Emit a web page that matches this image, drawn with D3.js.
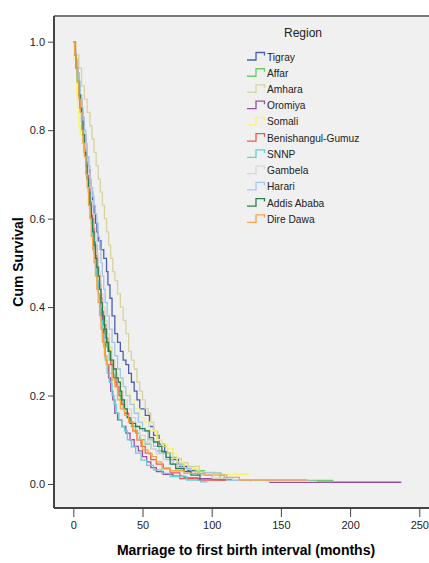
<!DOCTYPE html>
<meta charset="utf-8">
<style>

body {
  margin: 0;
  background: #fff;
  font-family: "Liberation Sans", Arial, sans-serif;
}

.axis text {
  font-size: 11px;
  fill: #222;
}

.axis path,
.axis line {
  stroke: #444;
}

.curve {
  fill: none;
  stroke-width: 1.3px;
}

</style>
<svg width="429" height="563"></svg>
<script src="https://d3js.org/d3.v7.min.js"></script>
<script>

var regions = ["Tigray", "Affar", "Amhara", "Oromiya", "Somali", "Benishangul-Gumuz",
    "SNNP", "Gambela", "Harari", "Addis Ababa", "Dire Dawa"];

var colors = ["#4a5fb2", "#6acd6a", "#d8d2a0", "#9a4fa6", "#f7f36e", "#f05555",
    "#62d0d0", "#d6d6d6", "#a6c4e8", "#2f7d4c", "#f6a445"];

// [months, cumulative survival]
var tigray = [[0,1],[1,0.98],[2,0.95],[3,0.92],[4,0.9],[5,0.87],[6,0.84],[7,0.82],[8,0.79],[9,0.76],[10,0.74],[11,0.71],[12,0.68],[13,0.66],[14,0.63],[15,0.61],[16,0.59],[17,0.57],[18,0.55],[20,0.53],[22,0.51],[24,0.48],[25,0.45],[26.5,0.42],[28,0.38],[30,0.34],[32,0.32],[34,0.3],[36,0.28],[38,0.27],[40,0.25],[42,0.23],[44,0.21],[46,0.19],[48,0.17],[52,0.155],[55,0.13],[58,0.11],[62,0.09],[66,0.07],[70,0.055],[76,0.04],[82,0.03],[90,0.02],[100,0.012],[106,0.008]];
var affar = [[0,1],[1,0.97],[2,0.95],[3,0.92],[4,0.89],[5,0.86],[6,0.83],[7,0.79],[8,0.76],[9,0.73],[10,0.7],[11,0.67],[12,0.64],[13,0.61],[14,0.58],[15,0.55],[16,0.52],[17,0.49],[18,0.46],[19,0.43],[20,0.4],[21,0.37],[22.5,0.34],[24,0.31],[26,0.28],[28,0.25],[30,0.23],[32,0.21],[34,0.19],[36,0.17],[39,0.15],[42,0.13],[45,0.115],[48,0.1],[52,0.09],[56,0.08],[60,0.075],[65,0.07],[70,0.06],[75,0.045],[80,0.035],[88,0.03],[95,0.027],[102,0.024],[106,0.008],[188,0.008]];
var amhara = [[0,1],[2,0.97],[4,0.94],[6,0.9],[8,0.87],[10,0.84],[12,0.81],[13.5,0.78],[15,0.75],[16.5,0.72],[18,0.69],[19.5,0.66],[21,0.63],[22.5,0.6],[24,0.57],[25.5,0.54],[27,0.51],[28.5,0.48],[30,0.46],[32,0.43],[34,0.4],[36,0.37],[38,0.34],[40,0.3],[42,0.28],[44,0.26],[46,0.23],[48,0.21],[50,0.19],[52,0.17],[54,0.16],[56,0.14],[58,0.12],[61,0.1],[64,0.085],[68,0.07],[72,0.058],[78,0.048],[83,0.04],[91,0.02],[100,0.012],[110,0.008],[128,0.005]];
var oromiya = [[0,1],[1,0.97],[2,0.94],[3,0.91],[4,0.88],[5,0.85],[6,0.82],[7,0.79],[8,0.76],[9,0.73],[10,0.7],[11,0.67],[12,0.63],[13,0.6],[14,0.57],[15,0.53],[16,0.5],[17,0.47],[18,0.44],[19,0.41],[20,0.38],[21,0.35],[22,0.32],[23,0.29],[24,0.27],[25.5,0.24],[27,0.21],[28.5,0.19],[30,0.16],[32,0.145],[35,0.13],[38,0.115],[41,0.1],[44,0.085],[47,0.075],[50,0.062],[53,0.05],[56,0.037],[60,0.028],[65,0.022],[72,0.018],[80,0.014],[90,0.012],[100,0.01],[120,0.008],[142,0.004],[237,0.004]];
var somali = [[0,1],[0.5,0.96],[2,0.93],[2.5,0.88],[3,0.85],[4,0.81],[5,0.79],[6,0.77],[7.5,0.75],[9,0.72],[10,0.69],[11,0.66],[12,0.63],[13,0.6],[14,0.57],[15,0.54],[16.5,0.5],[18,0.46],[19,0.43],[20.5,0.4],[22,0.37],[23.5,0.34],[25,0.31],[27,0.28],[29,0.26],[32,0.24],[35,0.22],[38,0.205],[41,0.19],[44,0.17],[48,0.15],[52,0.14],[55,0.12],[60,0.1],[64,0.09],[68,0.08],[72,0.07],[75,0.05],[80,0.035],[90,0.028],[103,0.022],[127,0.022]];
var benishangul = [[0,1],[1,0.98],[2,0.96],[3,0.93],[4,0.9],[5,0.87],[6,0.84],[7,0.81],[8,0.78],[9,0.75],[10,0.72],[11,0.69],[12,0.66],[13,0.63],[14,0.6],[15,0.57],[16,0.54],[17,0.51],[18,0.48],[19,0.45],[20,0.42],[21,0.39],[22,0.36],[23.5,0.33],[25,0.3],[27,0.27],[29,0.24],[31,0.22],[33,0.2],[35,0.18],[37,0.16],[40,0.14],[43,0.12],[46,0.1],[49,0.085],[52,0.07],[56,0.055],[60,0.045],[65,0.035],[70,0.025],[77,0.012],[90,0.009],[120,0.009]];
var snnp = [[0,1],[1,0.97],[2,0.94],[3,0.91],[4,0.88],[5,0.85],[6,0.82],[7,0.79],[8,0.76],[9,0.72],[10,0.69],[11,0.66],[12,0.62],[13,0.59],[14,0.56],[15,0.52],[16,0.49],[17,0.46],[18,0.43],[19,0.4],[20,0.37],[21,0.34],[22,0.31],[23,0.28],[24.5,0.25],[26,0.23],[28,0.2],[29.5,0.18],[31,0.16],[33,0.145],[35,0.13],[37,0.12],[39,0.1],[42,0.084],[45,0.07],[49,0.054],[53,0.042],[58,0.032],[64,0.024],[70,0.017],[82,0.009],[92,0.005],[97,0.005]];
var gambela = [[0,1],[1,0.98],[2,0.95],[3,0.93],[4,0.9],[5,0.88],[6,0.85],[7,0.82],[8,0.79],[9,0.76],[10,0.73],[11,0.7],[12,0.67],[13,0.64],[14,0.61],[15,0.58],[16,0.55],[17,0.52],[18,0.49],[19,0.46],[20,0.43],[21.5,0.4],[23,0.37],[24.5,0.34],[26,0.31],[28,0.28],[30,0.25],[32,0.23],[34,0.21],[36,0.19],[39,0.17],[42,0.15],[45,0.13],[48,0.11],[52,0.095],[56,0.08],[60,0.068],[65,0.055],[70,0.045],[76,0.035],[82,0.028],[90,0.02],[100,0.014],[115,0.01],[140,0.006],[176,0.006]];
var harari = [[0,1],[1,0.98],[2,0.96],[3,0.93],[4,0.91],[5,0.88],[6,0.85],[7,0.83],[8,0.8],[9,0.77],[10,0.74],[11,0.72],[12,0.69],[13,0.67],[14,0.65],[15,0.63],[16,0.61],[17,0.59],[18,0.56],[19,0.53],[20,0.5],[21,0.47],[22,0.44],[23,0.41],[24.5,0.38],[26,0.35],[28,0.32],[30,0.29],[32,0.26],[34,0.24],[36,0.22],[38,0.2],[41,0.18],[44,0.16],[47,0.14],[50,0.12],[54,0.1],[58,0.085],[62,0.07],[67,0.055],[72,0.045],[78,0.035],[85,0.028],[94,0.025],[107,0.02],[111,0.008],[170,0.008]];
var addisAbaba = [[0,1],[1,0.97],[2,0.94],[3,0.91],[4,0.88],[5,0.85],[6,0.82],[7,0.79],[8,0.75],[9,0.72],[10,0.69],[11,0.66],[12,0.63],[13,0.6],[14,0.57],[15,0.54],[16,0.51],[17,0.49],[18,0.47],[19,0.44],[20,0.41],[21,0.38],[22.5,0.35],[24,0.32],[25.5,0.3],[27,0.28],[29,0.26],[31,0.24],[32.5,0.23],[34,0.21],[35,0.19],[37,0.17],[39,0.15],[41,0.137],[45,0.13],[48,0.125],[51.8,0.12],[55,0.105],[58,0.095],[61,0.085],[64,0.073],[67,0.06],[70,0.045],[74,0.035],[80,0.028],[85,0.02],[91.5,0.01],[92,0.01]];
var direDawa = [[0,1],[1,0.97],[2,0.94],[3,0.91],[4,0.87],[5,0.84],[6,0.8],[7,0.77],[8,0.74],[9,0.7],[10,0.67],[11,0.63],[12,0.6],[13,0.56],[14,0.53],[15,0.5],[16,0.47],[17,0.44],[18,0.41],[19,0.38],[20,0.35],[21,0.32],[22.5,0.29],[24,0.27],[26,0.25],[28,0.235],[30,0.22],[32,0.19],[34,0.17],[37,0.155],[40,0.14],[43,0.122],[46,0.1],[50,0.077],[54,0.068],[57,0.062],[60,0.05],[64,0.036],[70,0.03],[80,0.024],[95,0.02],[109,0.015],[120,0.009],[169,0.009]];

var curves = [tigray, affar, amhara, oromiya, somali, benishangul,
    snnp, gambela, harari, addisAbaba, direDawa];

var xTicks = [0, 50, 100, 150, 200, 250];
var yTicks = [0, 0.2, 0.4, 0.6, 0.8, 1.0];

var svg = d3.select("svg"),
    width = +svg.attr("width"),
    height = +svg.attr("height");

var plot = {left: 54, top: 16, right: 440, bottom: 508};

var x = d3.scaleLinear()
    .domain([0, 250])
    .range([73.3, 419.3]);

var y = d3.scaleLinear()
    .domain([0, 1])
    .range([484, 41.7]);

// plot background
svg.append("rect")
    .attr("x", plot.left)
    .attr("y", plot.top)
    .attr("width", plot.right - plot.left)
    .attr("height", plot.bottom - plot.top)
    .style("fill", "#f0f0f0");

svg.append("line")
    .attr("x1", plot.left).attr("x2", plot.right)
    .attr("y1", plot.top).attr("y2", plot.top)
    .style("stroke", "#7a7a7a")
    .style("stroke-width", 2);

var line = d3.line()
    .curve(d3.curveStepAfter)
    .x(function(d) { return x(d[0]); })
    .y(function(d) { return y(d[1]); });

svg.append("g")
  .selectAll("path")
  .data(curves)
  .enter().append("path")
    .attr("class", "curve")
    .attr("d", line)
    .style("stroke", function(d, i) { return colors[i]; });

// axes
var yAxis = svg.append("g")
    .attr("class", "axis")
    .attr("transform", "translate(" + plot.left + ",0)")
    .call(d3.axisLeft(y).tickValues(yTicks).tickFormat(d3.format(".1f")).tickSize(6).tickSizeOuter(0));

yAxis.select(".domain")
    .attr("d", "M0," + plot.top + "V" + plot.bottom)
    .style("stroke-width", 2);

var xAxis = svg.append("g")
    .attr("class", "axis")
    .attr("transform", "translate(0," + plot.bottom + ")")
    .call(d3.axisBottom(x).tickValues(xTicks).tickSize(9).tickSizeOuter(0));

xAxis.select(".domain")
    .attr("d", "M" + plot.left + ",0H" + plot.right)
    .style("stroke-width", 2);

xAxis.selectAll("text").attr("y", 13);

svg.append("text")
    .attr("transform", "translate(23,262) rotate(-90)")
    .attr("text-anchor", "middle")
    .style("font-size", "14px")
    .style("font-weight", "bold")
    .text("Cum Survival");

svg.append("text")
    .attr("x", 246)
    .attr("y", 555)
    .attr("text-anchor", "middle")
    .style("font-size", "14px")
    .style("font-weight", "bold")
    .text("Marriage to first birth interval (months)");

// legend
var legend = svg.append("g")
    .attr("transform", "translate(247,57)");

legend.append("text")
    .attr("x", 56)
    .attr("y", -20)
    .style("font-size", "12px")
    .attr("text-anchor", "middle")
    .style("fill", "#222")
    .text("Region");

var item = legend.selectAll(".item")
  .data(regions)
  .enter().append("g")
    .attr("class", "item")
    .attr("transform", function(d, i) { return "translate(0," + i * 16.23 + ")"; });

item.append("path")
    .attr("d", "M0,3H9V-4.5H17.5V-1.5")
    .style("fill", "none")
    .style("stroke-width", 1.3)
    .style("stroke", function(d, i) { return colors[i]; });

item.append("text")
    .attr("x", 20)
    .attr("dy", "0.35em")
    .style("font-size", "10.2px")
    .style("fill", "#222")
    .text(function(d) { return d; });

</script>
